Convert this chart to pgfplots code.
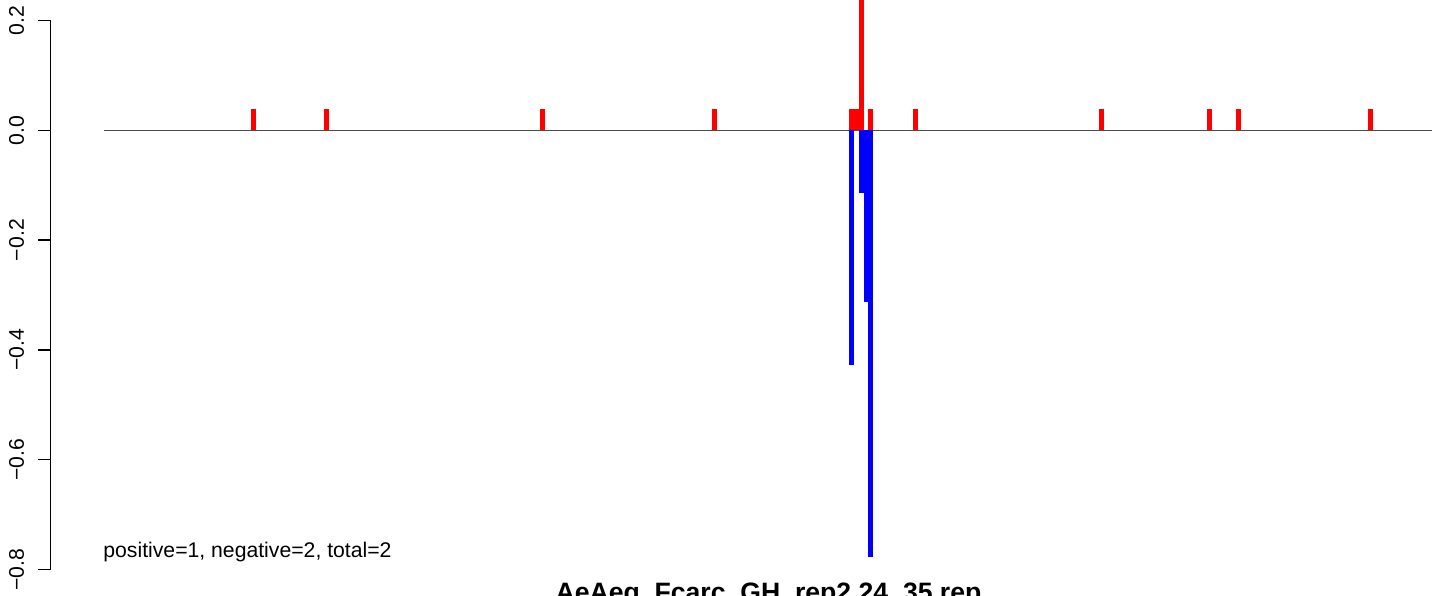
\documentclass[border=0pt]{standalone}
\usepackage{fontspec}
\setmainfont{Liberation Sans}
\usepackage{pgfplots}
\pgfplotsset{compat=1.18}
\begin{document}
\begin{tikzpicture}
\path[use as bounding box] (0,0) rectangle (722pt,297.5pt);
\clip (0,0) rectangle (722pt,297.5pt);
\begin{axis}[at={(0,0)}, anchor=south west, x=0.5pt, y=274.5pt,
  xmin=0, xmax=1444, ymin=-0.8464, ymax=0.2373, hide axis, clip=false]
% zero line
\addplot[black!70, line width=0.6pt, mark=none] coordinates {(104,0) (1432,0)};
% negative (blue)
\addplot[ycomb, blue, line width=2.5pt, mark=none] coordinates {
(851.5,-0.428) (861.5,-0.115) (866,-0.312) (870.6,-0.777)};
% positive (red)
\addplot[ycomb, red, line width=2.5pt, mark=none] coordinates {
(253.5,0.039) (326.5,0.039) (542.5,0.039) (714.5,0.039) (851.5,0.039) (856.5,0.039)
(861.2,0.5) (870.6,0.039) (915.5,0.039) (1101.5,0.039) (1209.8,0.039) (1238.5,0.039) (1370.5,0.039)};
% y axis
\draw[line width=0.65pt] (axis cs:50.5,-0.8) -- (axis cs:50.5,0.2);
\draw[line width=0.65pt] (axis cs:50.5,0.2) -- (axis cs:37.5,0.2);
\draw[line width=0.65pt] (axis cs:50.5,0.0) -- (axis cs:37.5,0.0);
\draw[line width=0.65pt] (axis cs:50.5,-0.2) -- (axis cs:37.5,-0.2);
\draw[line width=0.65pt] (axis cs:50.5,-0.4) -- (axis cs:37.5,-0.4);
\draw[line width=0.65pt] (axis cs:50.5,-0.6) -- (axis cs:37.5,-0.6);
\draw[line width=0.65pt] (axis cs:50.5,-0.8) -- (axis cs:37.5,-0.8);
\node[rotate=90, anchor=base, font=\fontsize{10.6}{12}\selectfont] at (axis cs:24,0.2) {0.2};
\node[rotate=90, anchor=base, font=\fontsize{10.6}{12}\selectfont] at (axis cs:24,0.0) {0.0};
\node[rotate=90, anchor=base, font=\fontsize{10.6}{12}\selectfont] at (axis cs:24,-0.2) {−0.2};
\node[rotate=90, anchor=base, font=\fontsize{10.6}{12}\selectfont] at (axis cs:24,-0.4) {−0.4};
\node[rotate=90, anchor=base, font=\fontsize{10.6}{12}\selectfont] at (axis cs:24,-0.6) {−0.6};
\node[rotate=90, anchor=base, font=\fontsize{10.6}{12}\selectfont] at (axis cs:24,-0.8) {−0.8};
\node[anchor=base west, inner sep=0pt, font=\fontsize{10.6}{12}\selectfont] at (axis cs:103,-0.7772) {positive=1, negative=2, total=2};
\node[anchor=base, inner sep=0pt, font=\bfseries\fontsize{13.3}{16}\selectfont] at (axis cs:768.5,-0.8574) {AeAeg\_Fcarc\_GH\_rep2.24\_35.rep};
\end{axis}
\end{tikzpicture}
\end{document}
